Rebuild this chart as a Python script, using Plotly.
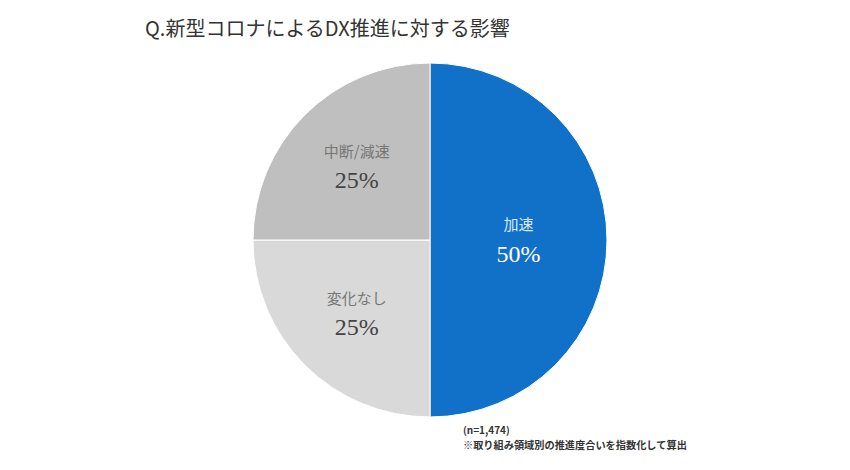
import plotly.graph_objects as go

labels = ["加速", "変化なし", "中断/減速"]
values = [50, 25, 25]
colors = ["#1170c8", "#d9d9d9", "#bfbfbf"]
label_colors = ["#dce8f6", "#777777", "#777777"]
pct_colors = ["#ffffff", "#444444", "#444444"]

title_text = "Q.新型コロナによるDX推進に対する影響"
note_n = "(n=1,474)"
note_text = "※取り組み領域別の推進度合いを指数化して算出"

templates = [
    "<span style=\"font-family:Noto Sans CJK JP;font-size:15px;color:%s\">%%{label}</span><br>"
    "%%{percent:.0%%}" % lc
    for lc in label_colors
]

fig = go.Figure(go.Pie(
    labels=labels,
    values=values,
    sort=False,
    direction="clockwise",
    rotation=0,
    marker=dict(colors=colors, line=dict(color="#ffffff", width=1)),
    texttemplate=templates,
    textposition="inside",
    insidetextorientation="horizontal",
    insidetextfont=dict(size=24, family="Liberation Serif", color=pct_colors),
    hoverinfo="label+percent",
    domain=dict(x=[253/850, 607/850], y=[53/470, 407/470]),
    showlegend=False,
))

fig.update_layout(
    width=850, height=470,
    margin=dict(l=0, r=0, t=0, b=0),
    paper_bgcolor="#ffffff",
    plot_bgcolor="#ffffff",
    font=dict(family="Noto Sans CJK JP"),
    annotations=[
        dict(text=title_text, x=143/850, y=1-28/470, xref="paper", yref="paper",
             xanchor="left", yanchor="middle", showarrow=False,
             font=dict(size=20, color="#333333", family="Noto Sans CJK JP")),
        dict(text="<b>" + note_n + "</b>", x=461/850, y=1-429/470, xref="paper", yref="paper",
             xanchor="left", yanchor="middle", showarrow=False,
             font=dict(size=10, color="#333333", family="Noto Sans CJK JP")),
        dict(text="<b>" + note_text + "</b>", x=461/850, y=1-444/470, xref="paper", yref="paper",
             xanchor="left", yanchor="middle", showarrow=False,
             font=dict(size=10.2, color="#333333", family="Noto Sans CJK JP")),
    ],
)

fig.write_html("out.html")
